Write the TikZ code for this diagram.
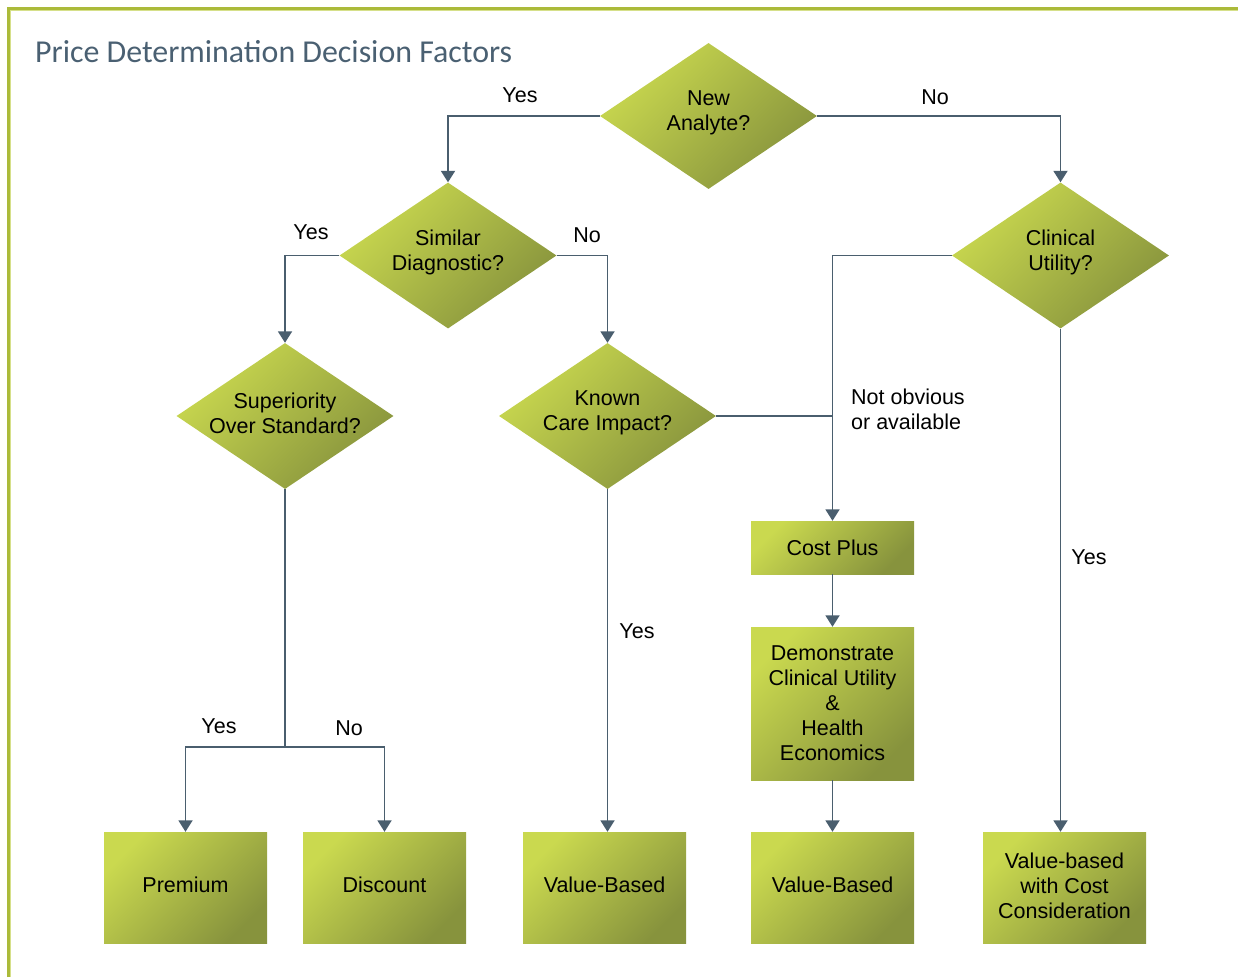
\documentclass[tikz,border=0pt]{standalone}
\usepackage{fontspec}
\setmainfont{Liberation Sans}
\newfontfamily\titlefont{Carlito}
\usetikzlibrary{shapes.geometric,arrows.meta}
\definecolor{gLight}{HTML}{CAD94F}
\definecolor{gDark}{HTML}{87933D}
\definecolor{lineCol}{HTML}{4A5E6E}
\definecolor{titleCol}{HTML}{4A6072}
\definecolor{frameCol}{HTML}{ABBA3A}
\definecolor{frameLight}{HTML}{D6E08A}
\tikzset{
  body/.style={font=\fontsize{21.5}{25}\selectfont, text=black},
  grad/.style={top color=gLight, bottom color=gDark, shading angle=45},
  dec/.style={diamond, grad, minimum width=217pt, minimum height=146pt, inner sep=0pt, aspect=1.49},
  dectext/.style={body, align=center, inner sep=0pt, yshift=3pt},
  box/.style={rectangle, grad, minimum width=163pt, inner sep=0pt, body, align=center},
  boxtext/.style={body, align=center, inner sep=0pt},
  conn/.style={draw=lineCol, line width=1.9pt},
  arr/.style={conn, -{Triangle[length=11.5pt,width=14pt]}},
  lbl/.style={body, inner sep=0pt},
}
\begin{document}
\begin{tikzpicture}[x=1pt,y=-1pt]
\useasboundingbox (0,0) rectangle (1238,977);
% frame
\draw[frameCol, line width=2.2pt] (8.5,977) -- (8.5,8.5) -- (1238,8.5);
\draw[frameLight, line width=0.8pt] (10.3,977) -- (10.3,10.3) -- (1238,10.3);
% title
\node[anchor=west, inner sep=0pt, font=\titlefont\fontsize{31.9}{36}\selectfont, text=titleCol] (title) at (35,52) {Price Determination Decision Factors};
% decisions
\node[dec, label={[dectext]center:New\\Analyte?}] (na) at (708.5,116) {};
\node[dec, label={[dectext]center:Similar\\Diagnostic?}] (sim) at (448,255.5) {};
\node[dec, label={[dectext]center:Clinical\\Utility?}] (cu) at (1060.5,255.5) {};
\node[dec, label={[dectext]center:Superiority\\Over Standard?}] (sup) at (285,416) {};
\node[dec, label={[dectext]center:Known\\Care Impact?}] (kc) at (607.5,416) {};
% boxes
\node[box, minimum height=53pt, label={[boxtext]center:Cost Plus}] (cp) at (832.5,547.5) {};
\node[box, minimum height=153pt, label={[boxtext]center:Demonstrate\\Clinical Utility\\\&\\Health\\Economics}] (dem) at (832.5,703.5) {};
\node[box, minimum height=111pt, label={[boxtext, yshift=3pt]center:Premium}] (prem) at (185.5,887.5) {};
\node[box, minimum height=111pt, label={[boxtext, yshift=3pt]center:Discount}] (disc) at (384.5,887.5) {};
\node[box, minimum height=111pt, label={[boxtext, yshift=3pt]center:Value-Based}] (vb1) at (604.5,887.5) {};
\node[box, minimum height=111pt, label={[boxtext, yshift=3pt]center:Value-Based}] (vb2) at (832.5,887.5) {};
\node[box, minimum height=111pt, label={[boxtext, yshift=2pt]center:Value-based\\with Cost\\Consideration}] (vbc) at (1064.5,887.5) {};
% connectors
\draw[arr] (na.west) -| (sim.north);
\draw[arr] (na.east) -| (cu.north);
\draw[arr] (sim.west) -| (sup.north);
\draw[arr] (sim.east) -| (kc.north);
\draw[arr] (cu.west) -| (cp.north);
\draw[conn] (kc.east) -- (kc.east -| cp.north);
\draw[arr] (cu.south) -- (cu.south |- vbc.north);
\draw[arr] (kc.south) -- (kc.south |- vb1.north);
\coordinate (split) at (285,747);
\draw[conn] (sup.south) -- (split);
\draw[arr] (split) -| (prem.north);
\draw[arr] (split) -| (disc.north);
\draw[arr] (cp.south) -- (dem.north);
\draw[arr] (dem.south) -- (vb2.north);
% labels
\node[lbl] (l1) at (520,95) {Yes};
\node[lbl] (l2) at (935,97) {No};
\node[lbl] (l3) at (311,232) {Yes};
\node[lbl] (l4) at (587,235) {No};
\node[lbl, anchor=west, align=left] (l5) at (851,409) {Not obvious\\or available};
\node[lbl] (l6) at (1089,557) {Yes};
\node[lbl] (l7) at (637,631) {Yes};
\node[lbl] (l8) at (219,726) {Yes};
\node[lbl] (l9) at (349,728) {No};
\end{tikzpicture}
\end{document}
